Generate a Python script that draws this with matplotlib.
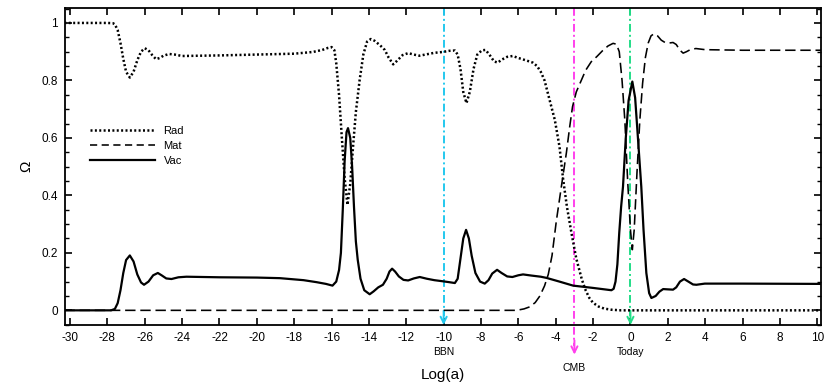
import matplotlib
matplotlib.use("Agg")
import matplotlib.pyplot as plt
from matplotlib.lines import Line2D
from matplotlib.ticker import MultipleLocator

plt.rcParams['font.family'] = ['Liberation Sans', 'DejaVu Sans']

# ---- data ----
rad_x = [-30.3, -28.0, -27.7, -27.6, -27.45, -27.3, -27.15, -27.0, -26.8, -26.6, -26.4, -26.2,
         -26.0, -25.8, -25.6, -25.4, -25.2, -25.0, -24.7, -24.4, -24.0, -22.0, -20.0, -18.0,
         -17.0, -16.5, -16.2, -16.0, -15.85, -15.75, -15.6, -15.45, -15.3, -15.15, -15.0,
         -14.85, -14.7, -14.5, -14.3, -14.1, -13.9, -13.7, -13.4, -13.15, -12.95, -12.7,
         -12.5, -12.2, -11.9, -11.6, -11.3, -10.9, -10.5, -10.05, -9.7, -9.4, -9.25, -9.1,
         -8.95, -8.78, -8.6, -8.4, -8.2, -7.95, -7.75, -7.5, -7.3, -7.1, -6.9, -6.6, -6.3,
         -6.0, -5.6, -5.23, -5.0, -4.8, -4.6, -4.4, -4.2, -4.05, -3.8, -3.6, -3.4, -3.16,
         -2.9, -2.6, -2.4, -2.2, -2.0, -1.7, -1.4, -1.0, -0.5, 10.2]
rad_y = [1.0, 1.0, 0.999, 0.995, 0.975, 0.93, 0.875, 0.83, 0.81, 0.83, 0.87, 0.90,
         0.912, 0.905, 0.888, 0.874, 0.878, 0.886, 0.892, 0.89, 0.885, 0.887, 0.89, 0.893,
         0.899, 0.906, 0.913, 0.916, 0.905, 0.86, 0.75, 0.60, 0.46, 0.367, 0.44,
         0.57, 0.69, 0.80, 0.89, 0.935, 0.944, 0.938, 0.922, 0.906, 0.88, 0.856,
         0.868, 0.888, 0.895, 0.89, 0.886, 0.891, 0.896, 0.899, 0.903, 0.904, 0.89, 0.84,
         0.76, 0.721, 0.76, 0.84, 0.89, 0.905, 0.906, 0.885, 0.866, 0.862, 0.872, 0.882, 0.885,
         0.878, 0.87, 0.862, 0.85, 0.83, 0.80, 0.75, 0.70, 0.663, 0.57, 0.454, 0.36, 0.27,
         0.18, 0.107, 0.07, 0.043, 0.026, 0.013, 0.006, 0.002, 0.0, 0.0]

mat_x = [-30.3, -6.1, -5.7, -5.4, -5.1, -4.85, -4.6, -4.4, -4.2, -3.97, -3.7, -3.43, -3.25,
         -3.1, -2.9, -2.7, -2.4, -2.1, -1.8, -1.5, -1.2, -0.93, -0.75, -0.6, -0.45, -0.3,
         -0.15, 0.0, 0.1, 0.2, 0.35, 0.5, 0.65, 0.8, 0.95, 1.1, 1.25, 1.45, 1.65, 1.85, 2.05,
         2.28, 2.45, 2.65, 2.82, 3.0, 3.2, 3.5, 4.0, 6.0, 10.2]
mat_y = [0.0, 0.0, 0.005, 0.012, 0.027, 0.05, 0.085, 0.125, 0.19, 0.31, 0.43, 0.548, 0.64,
         0.709, 0.76, 0.79, 0.835, 0.865, 0.883, 0.903, 0.92, 0.929, 0.926, 0.90, 0.80, 0.66,
         0.45, 0.28, 0.211, 0.28, 0.48, 0.66, 0.79, 0.88, 0.93, 0.955, 0.962, 0.955, 0.94, 0.932, 0.93,
         0.932, 0.925, 0.905, 0.895, 0.90, 0.907, 0.911, 0.907, 0.905, 0.905]

vac_x = [-30.3, -27.8, -27.6, -27.45, -27.3, -27.15, -27.0, -26.8, -26.6, -26.4, -26.2, -26.04,
         -25.8, -25.55, -25.3, -25.1, -24.85, -24.57, -24.2, -23.77, -22.0, -20.0, -18.77,
         -17.5, -16.8, -16.3, -15.95, -15.75, -15.6, -15.5, -15.4, -15.3, -15.2, -15.12, -15.0,
         -14.9, -14.8, -14.7, -14.6, -14.45, -14.25, -13.96, -13.75, -13.5, -13.25, -13.05,
         -12.9, -12.76, -12.6, -12.4, -12.15, -11.9, -11.6, -11.28, -10.9, -10.5, -10.03, -9.7,
         -9.4, -9.25, -9.1, -8.95, -8.8, -8.65, -8.5, -8.3, -8.05, -7.8, -7.6, -7.4, -7.14,
         -6.9, -6.6, -6.32, -6.0, -5.75, -5.3, -4.8, -4.5, -3.8, -3.07, -2.0, -1.02, -0.9,
         -0.8, -0.7, -0.6, -0.5, -0.4, -0.25, -0.1, 0.1, 0.25, 0.4, 0.58, 0.7, 0.85, 1.0, 1.12,
         1.35, 1.55, 1.75, 2.0, 2.28, 2.45, 2.65, 2.87, 3.1, 3.35, 3.53, 3.98, 6.0, 10.2]
vac_y = [0.0, 0.0, 0.005, 0.025, 0.07, 0.13, 0.175, 0.191, 0.17, 0.125, 0.097, 0.089,
         0.10, 0.122, 0.13, 0.122, 0.111, 0.109, 0.115, 0.117, 0.115, 0.114, 0.112,
         0.105, 0.098, 0.092, 0.086, 0.10, 0.14, 0.20, 0.35, 0.52, 0.62, 0.634, 0.60,
         0.50, 0.36, 0.24, 0.176, 0.11, 0.07, 0.056, 0.066, 0.08, 0.089, 0.11,
         0.135, 0.145, 0.135, 0.118, 0.106, 0.104, 0.111, 0.116, 0.11, 0.105, 0.101, 0.098,
         0.095, 0.11, 0.18, 0.25, 0.28, 0.25, 0.19, 0.13, 0.10, 0.093, 0.105, 0.128, 0.141,
         0.13, 0.118, 0.116, 0.122, 0.125, 0.121, 0.117, 0.113, 0.10, 0.086, 0.078, 0.07, 0.075,
         0.10, 0.16, 0.27, 0.36, 0.43, 0.60, 0.73, 0.796, 0.74, 0.60, 0.43, 0.28, 0.13, 0.06, 0.043,
         0.05, 0.065, 0.074, 0.073, 0.072, 0.08, 0.10, 0.109, 0.10, 0.09, 0.089, 0.093, 0.093, 0.092]

events = ["BBN", "CMB", "Today"]
event_x = [-10, -3, 0]
event_colors = ["#22C8EE", "#FF40EC", "#22DD88"]

x_ticks = list(range(-30, 11, 2))
y_ticks = [0, 0.2, 0.4, 0.6, 0.8, 1]
y_tick_labels = ["0", "0.2", "0.4", "0.6", "0.8", "1"]

# ---- figure ----
fig = plt.figure(figsize=(8.30, 3.91), dpi=100)
ax = fig.add_axes([65/830, 1-325/391, (821-65)/830, (325-8)/391])

ax.set_xlim(-30.27, 10.2)
ax.set_ylim(-0.051, 1.052)

RAD_LS = (0, (0.8, 0.95))
MAT_LS = (0, (6.5, 3.0))
ax.plot(rad_x, rad_y, color='black', lw=1.8, linestyle=RAD_LS, label='Rad', zorder=3)
ax.plot(mat_x, mat_y, color='black', lw=1.15, linestyle=MAT_LS, label='Mat', zorder=3)
ax.plot(vac_x, vac_y, color='black', lw=1.6, label='Vac', zorder=3,
        solid_joinstyle='round')

# event markers
tips = {"BBN": -0.051, "CMB": -0.154, "Today": -0.051}
label_y = {"BBN": -0.1435, "CMB": -0.199, "Today": -0.1445}
for name, xv, c in zip(events, event_x, event_colors):
    tip = tips[name]
    ax.plot([xv, xv], [1.052, tip + 0.03], color=c, lw=1.4,
            linestyle=(0, (4, 1.6, 1, 1.6)), clip_on=False, zorder=2)
    ax.annotate("", xy=(xv, tip), xytext=(xv, tip + 0.05),
                arrowprops=dict(arrowstyle='->', color=c, lw=1.4,
                                shrinkA=0, shrinkB=0, mutation_scale=11),
                annotation_clip=False, zorder=2)
    ax.text(xv, label_y[name], name, ha='center', va='center', fontsize=7.5,
            transform=ax.transData, clip_on=False)

ax.set_xticks(x_ticks)
ax.set_xticklabels([str(t) for t in x_ticks])
ax.set_yticks(y_ticks)
ax.set_yticklabels(y_tick_labels)
ax.yaxis.set_minor_locator(MultipleLocator(0.05))
ax.tick_params(axis='both', which='major', direction='in', length=5, width=1.2,
               top=True, right=True, labelsize=8.5, pad=5)
ax.tick_params(axis='y', which='minor', direction='in', length=3, width=1.0,
               left=True, right=True)
for s in ax.spines.values():
    s.set_linewidth(1.3)

ax.set_xlabel("Log(a)", fontsize=11, labelpad=17)
ax.set_ylabel("Ω", fontsize=11, labelpad=6)

handles = [Line2D([], [], color='black', lw=1.8, linestyle=RAD_LS),
           Line2D([], [], color='black', lw=1.15, linestyle=(0, (4.5, 2.8))),
           Line2D([], [], color='black', lw=1.6)]
ax.legend(handles, ['Rad', 'Mat', 'Vac'], loc='upper left',
          bbox_to_anchor=(0.02, 0.66), frameon=False, fontsize=8,
          handlelength=5.8, labelspacing=0.45, handletextpad=0.8)

fig.savefig("out.png", dpi=100)
